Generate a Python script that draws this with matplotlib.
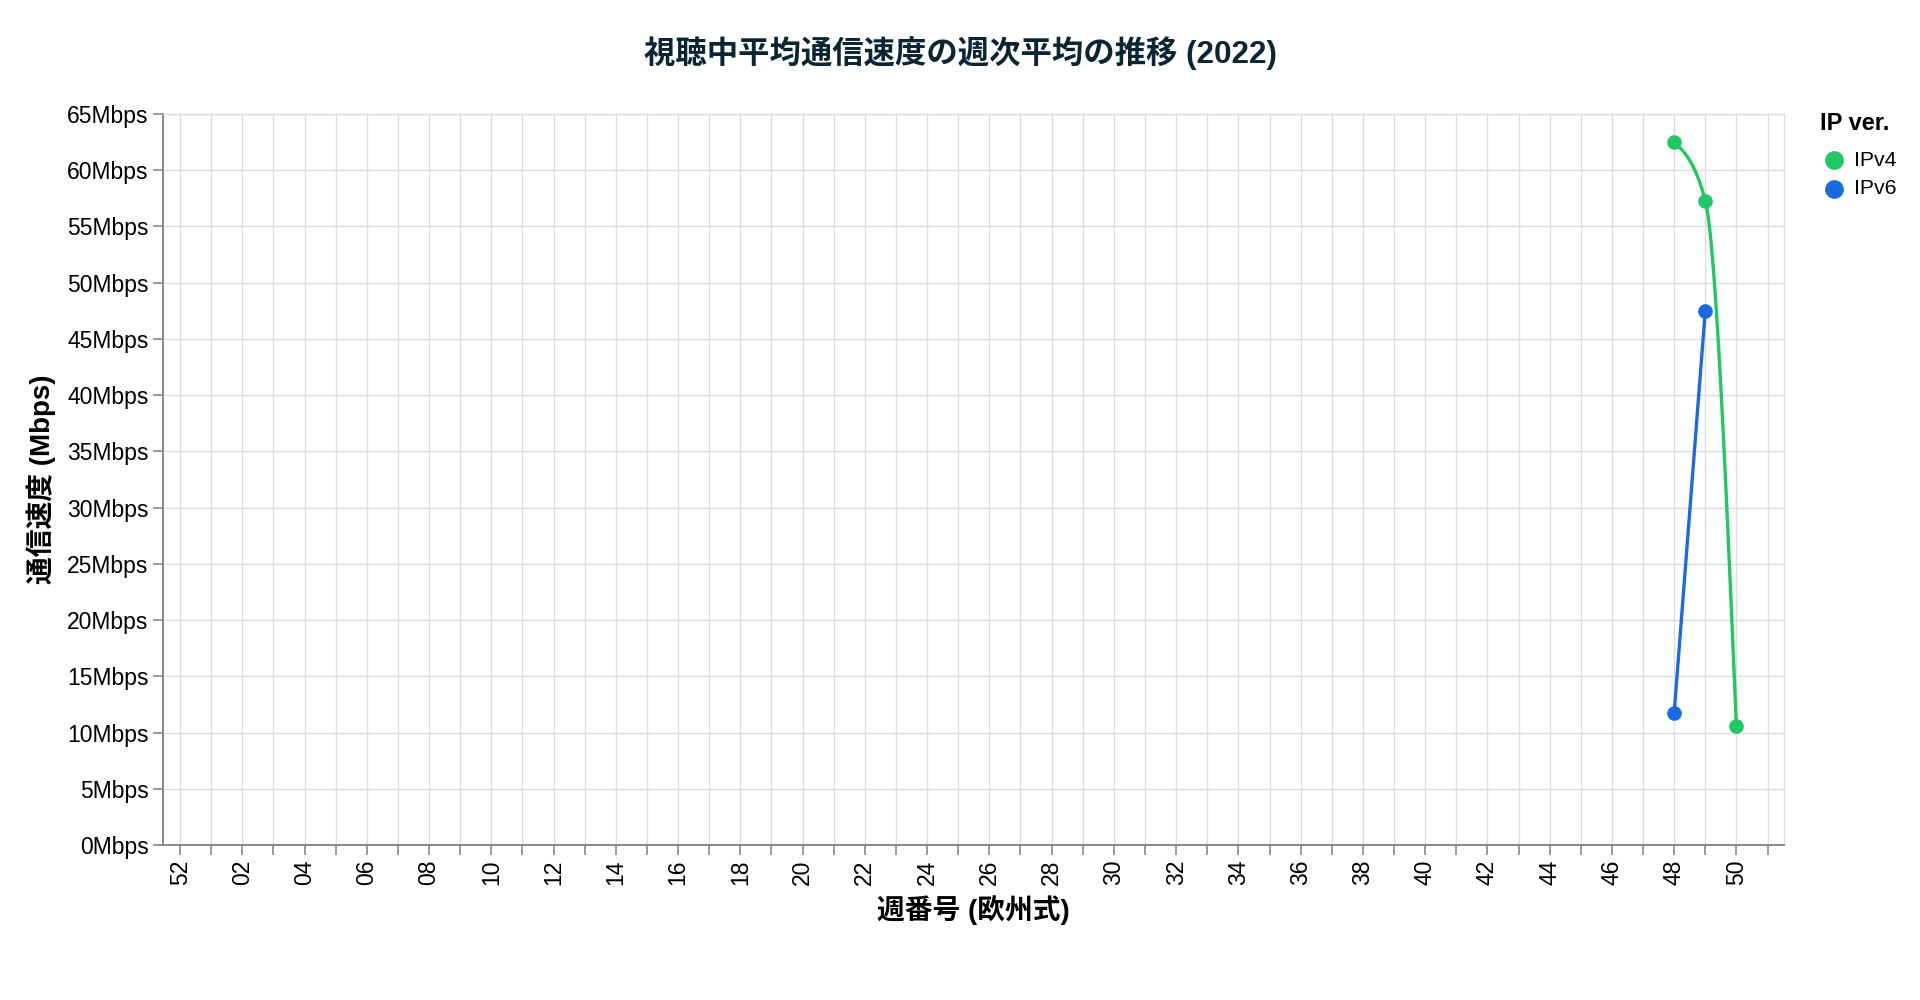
import numpy as np
import matplotlib
matplotlib.use('Agg')
import matplotlib.pyplot as plt
from matplotlib.lines import Line2D

plt.rcParams['font.family'] = ['Liberation Sans', 'Noto Sans CJK JP', 'DejaVu Sans']

title = '視聴中平均通信速度の週次平均の推移 (2022)'
x_title = '週番号 (欧州式)'
y_title = '通信速度 (Mbps)'
legend_title = 'IP ver.'

# ISO week numbers along the axis (2022 starts in week 52 of 2021)
week_labels = ['52', '01', '02', '03', '04', '05', '06', '07', '08', '09',
               '10', '11', '12', '13', '14', '15', '16', '17', '18', '19',
               '20', '21', '22', '23', '24', '25', '26', '27', '28', '29',
               '30', '31', '32', '33', '34', '35', '36', '37', '38', '39',
               '40', '41', '42', '43', '44', '45', '46', '47', '48', '49',
               '50', '51']
speed_ticks = [0, 5, 10, 15, 20, 25, 30, 35, 40, 45, 50, 55, 60, 65]

ipv4_weeks = ['48', '49', '50']
ipv4_speed = [62.5, 57.3, 10.6]
ipv6_weeks = ['48', '49']
ipv6_speed = [11.7, 47.5]

series_names = ['IPv4', 'IPv6']
series_colors = ['#1fc863', '#1b6be0']


def monotone_x(x, y, n=60):
    # same construction as d3.curveMonotoneX (vega "monotone")
    x = np.asarray(x, float)
    y = np.asarray(y, float)
    if len(x) < 3:
        return x, y
    h = np.diff(x)
    s = np.diff(y) / h
    t = np.zeros(len(x))
    for i in range(1, len(x) - 1):
        p = (s[i - 1] * h[i] + s[i] * h[i - 1]) / (h[i - 1] + h[i])
        sg = (1 if s[i - 1] >= 0 else -1) + (1 if s[i] >= 0 else -1)
        t[i] = sg * min(abs(s[i - 1]), abs(s[i]), 0.5 * abs(p))
    t[0] = (3 * s[0] - t[1]) / 2
    t[-1] = (3 * s[-1] - t[-2]) / 2
    xs, ys = [], []
    u = np.linspace(0, 1, n)
    for i in range(len(x) - 1):
        h00 = 2 * u**3 - 3 * u**2 + 1
        h10 = u**3 - 2 * u**2 + u
        h01 = -2 * u**3 + 3 * u**2
        h11 = u**3 - u**2
        xs.append(x[i] + u * h[i])
        ys.append(h00 * y[i] + h10 * h[i] * t[i] + h01 * y[i + 1] + h11 * h[i] * t[i + 1])
    return np.concatenate(xs), np.concatenate(ys)


fig = plt.figure(figsize=(19.2, 10), dpi=100)
left, right, top, bottom = 163, 1784, 114, 845
ax = fig.add_axes([left / 1920, 1 - bottom / 1000, (right - left) / 1920, (bottom - top) / 1000])

pos = {w: i for i, w in enumerate(week_labels)}
for weeks, speed, color in [(ipv4_weeks, ipv4_speed, series_colors[0]),
                            (ipv6_weeks, ipv6_speed, series_colors[1])]:
    xp = [pos[w] for w in weeks]
    cx, cy = monotone_x(xp, speed)
    ax.plot(cx, cy, color=color, lw=2.4, zorder=3, solid_capstyle='round')
    ax.plot(xp, speed, 'o', color=color, ms=9.5, zorder=4)

ax.set_xlim(-0.55, 51.53)
ax.set_ylim(0, 65)

ax.set_xticks(np.arange(len(week_labels)))
ax.set_xticklabels([lab if i % 2 == 0 else '' for i, lab in enumerate(week_labels)],
                   rotation=90, va='top', ha='center', fontsize=16.5)
ax.set_yticks(speed_ticks)
ax.set_yticklabels(['%dMbps' % v for v in speed_ticks], fontsize=16.5)

ax.grid(True, color='#dddddd', lw=1.0, zorder=0)
ax.set_axisbelow(True)
ax.tick_params(length=7, width=1.2, color='#888888', pad=3.5, labelcolor='#000000')
for side in ['left', 'bottom']:
    ax.spines[side].set_color('#888888')
    ax.spines[side].set_linewidth(1.4)
for side in ['top', 'right']:
    ax.spines[side].set_color('#dddddd')
    ax.spines[side].set_linewidth(1.0)

ax.set_ylabel(y_title, fontsize=20, fontweight='bold', va='center')
ax.yaxis.set_label_coords((41 - left) / (right - left), 0.5)
ax.set_xlabel(x_title, fontsize=20, fontweight='bold', va='center')
ax.xaxis.set_label_coords(0.5, -(910 - bottom) / (bottom - top))

fig.text(0.5, 1 - 53 / 1000, title, ha='center', va='center', fontsize=22.6,
         fontweight='bold', color='#0b2533')

# legend (symbol legend on the right)
fig.text(1820 / 1920, 1 - 124 / 1000, legend_title, ha='left', va='center',
         fontsize=17, fontweight='bold')
for i, (name, color) in enumerate(zip(series_names, series_colors)):
    ly = 1 - (160 + 28.5 * i) / 1000
    fig.add_artist(Line2D([1834 / 1920], [ly], transform=fig.transFigure,
                          marker='o', ls='none', color=color, ms=12.5))
    fig.text(1854 / 1920, ly, name, ha='left', va='center', fontsize=15.3)

fig.savefig('out.png', dpi=100)
